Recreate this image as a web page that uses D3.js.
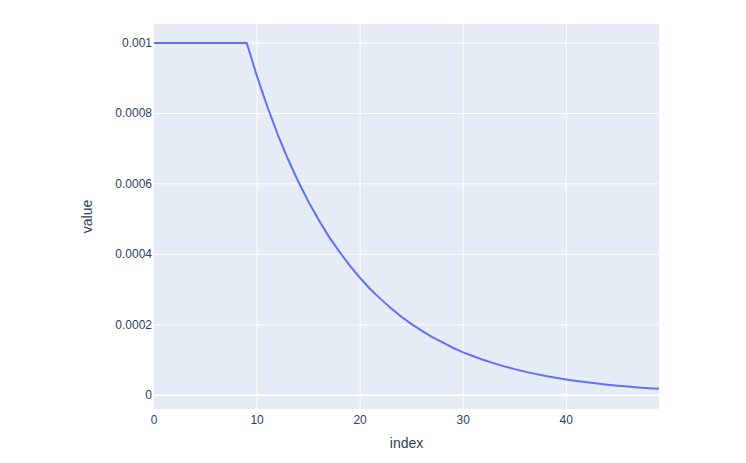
<!DOCTYPE html>
<html><head><meta charset="utf-8">
<script src="https://cdn.jsdelivr.net/npm/d3@7"></script>
<style>body{margin:0;background:#fff}svg{display:block}</style>
</head><body>
<svg id="c" width="746" height="463"></svg>
<script>
const indexValues = [0,1,2,3,4,5,6,7,8,9,10,11,12,13,14,15,16,17,18,19,20,21,22,23,24,25,26,27,28,29,30,31,32,33,34,35,36,37,38,39,40,41,42,43,44,45,46,47,48,49];
const seriesValues = [0.001,0.001,0.001,0.001,0.001,0.001,0.001,0.001,0.001,0.001,
0.000905,0.000819,0.000741,0.000670,0.000607,0.000549,0.000497,0.000449,0.000407,0.000368,
0.000333,0.000301,0.000273,0.000247,0.000223,0.000202,0.000183,0.000165,0.000150,0.000135,
0.000122,0.000111,0.000100,0.0000907,0.0000821,0.0000743,0.0000672,0.0000608,0.0000550,0.0000498,
0.0000450,0.0000408,0.0000369,0.0000334,0.0000302,0.0000273,0.0000247,0.0000224,0.0000202,0.0000183];
const xTicks = [0,10,20,30,40];
const yTicks = [0,0.0002,0.0004,0.0006,0.0008,0.001];
const yTickLabels = ["0","0.0002","0.0004","0.0006","0.0008","0.001"];

const L=154,R=659,T=24,B=409;
const svg=d3.select("#c");
const font="'Liberation Sans', Arial, sans-serif", tc="#2a3f5f";
const x=d3.scaleLinear().domain([0,49]).range([L,R]);
const y=d3.scaleLinear().domain([-0.0000389,0.001054]).range([B,T]);

svg.append("rect").attr("x",L).attr("y",T).attr("width",R-L).attr("height",B-T).attr("fill","#E5ECF6");
const g=svg.append("g");
g.selectAll("line.vx").data(xTicks.filter(d=>d!==0)).join("line")
 .attr("x1",d=>x(d)).attr("x2",d=>x(d)).attr("y1",T).attr("y2",B).attr("stroke","#fff").attr("stroke-width",1);
g.selectAll("line.hy").data(yTicks.filter(d=>d!==0)).join("line")
 .attr("x1",L).attr("x2",R).attr("y1",d=>y(d)).attr("y2",d=>y(d)).attr("stroke","#fff").attr("stroke-width",1);
g.append("line").attr("x1",L).attr("x2",R).attr("y1",y(0)).attr("y2",y(0)).attr("stroke","#fff").attr("stroke-width",2);

const line=d3.line().x((d,i)=>x(indexValues[i])).y(d=>y(d));
svg.append("path").datum(seriesValues).attr("d",line).attr("fill","none")
 .attr("stroke","#636efa").attr("stroke-width",2).attr("stroke-linejoin","round");

svg.selectAll("text.xt").data(xTicks).join("text")
 .attr("x",d=>x(d)).attr("y",B+15).attr("text-anchor","middle")
 .attr("font-family",font).attr("font-size",12).attr("fill",tc).text(d=>d);
svg.selectAll("text.yt").data(yTicks).join("text")
 .attr("x",L-2).attr("y",d=>y(d)+4).attr("text-anchor","end")
 .attr("font-family",font).attr("font-size",12).attr("fill",tc).text((d,i)=>yTickLabels[i]);
svg.append("text").attr("x",(L+R)/2).attr("y",448).attr("text-anchor","middle")
 .attr("font-family",font).attr("font-size",14).attr("fill",tc).text("index");
svg.append("text").attr("transform",`translate(92,${(T+B)/2}) rotate(-90)`).attr("text-anchor","middle")
 .attr("font-family",font).attr("font-size",14).attr("fill",tc).text("value");
</script>
</body></html>
